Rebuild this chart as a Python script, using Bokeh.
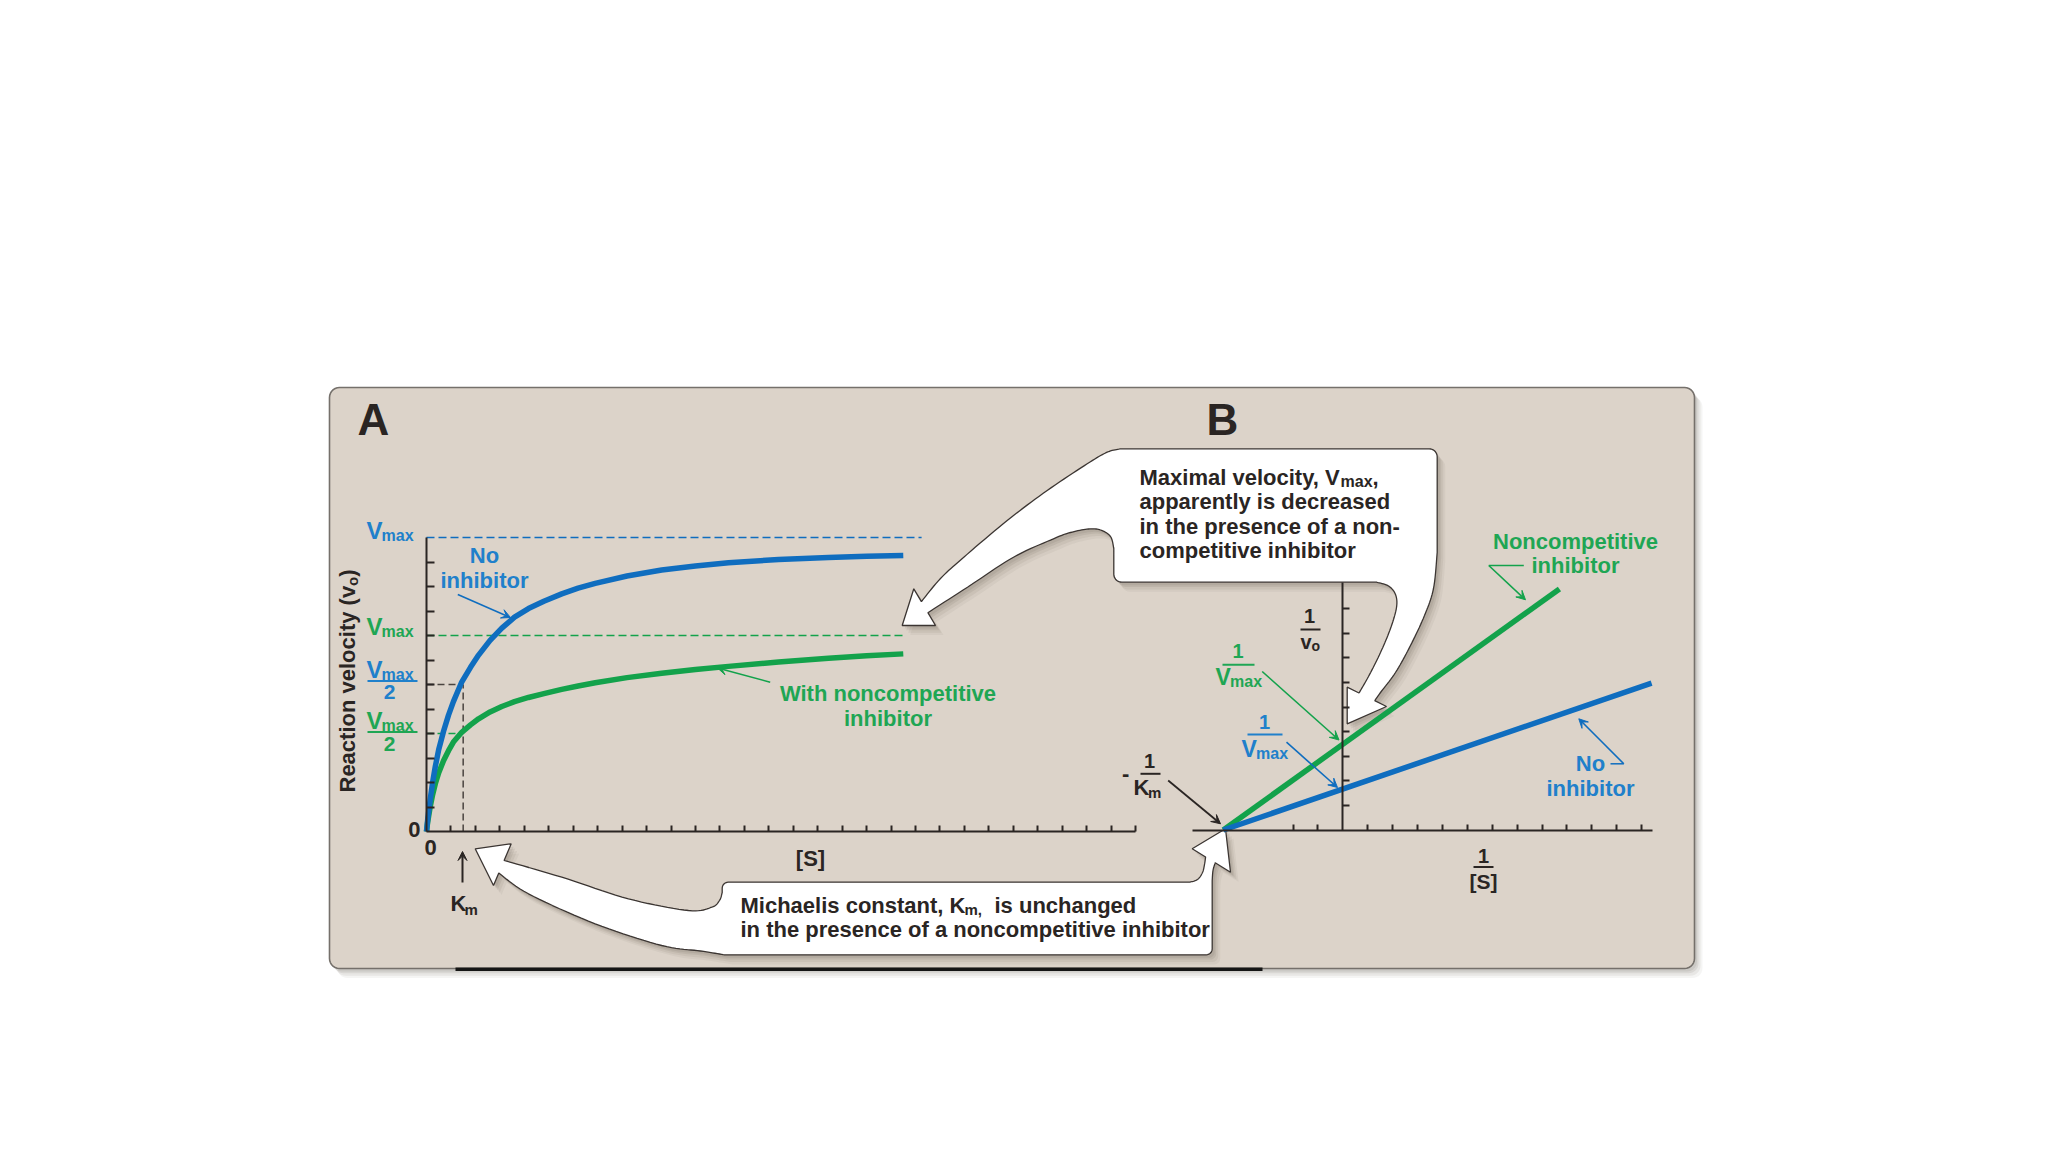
import numpy as np
from bokeh.plotting import figure
from bokeh.models import Range1d, LinearAxis, FixedTicker, Arrow, VeeHead
from bokeh.core.properties import value
from bokeh.embed import file_html
from bokeh.resources import INLINE

# ---------------- data ----------------
# Panel A: Michaelis-Menten plot ([S] and v0 in tick units)
S_VALUES = [0, 0.05, 0.15, 0.25, 0.36, 0.5, 0.7, 0.9, 1.1, 1.44, 1.8, 2.13, 2.6, 3.08,
            3.6, 4.17, 4.8, 5.53, 6.2, 6.9, 8.2, 9.62, 11, 12.35, 14.4, 16.44, 18, 19.5]
V_NO_INHIBITOR = [0, 0.5, 1.3, 2.0, 2.65, 3.35, 4.1, 4.75, 5.3, 6.1, 6.7, 7.2, 7.8, 8.3,
                  8.75, 9.1, 9.4, 9.7, 9.93, 10.13, 10.43, 10.67, 10.84, 10.97, 11.1, 11.18,
                  11.23, 11.27]
V_NONCOMPETITIVE = [0, 0.4, 1.0, 1.5, 1.95, 2.4, 2.9, 3.3, 3.65, 4.05, 4.35, 4.6, 4.88, 5.1,
                    5.3, 5.47, 5.63, 5.8, 5.94, 6.07, 6.28, 6.46, 6.61, 6.74, 6.92, 7.07,
                    7.17, 7.25]
VMAX_NO_INHIBITOR = 12
VMAX_NONCOMPETITIVE = 8
KM = 1.5
VMAX_LINE_END = [20.25, 19.5]
S_AXIS_END = 29
V_AXIS_END = 12
A_X_TICKS = [1, 2, 3, 4, 5, 6, 7, 8, 9, 10, 11, 12, 13, 14, 15, 16, 17, 18, 19, 20,
             21, 22, 23, 24, 25, 26, 27, 28, 29]
A_Y_TICKS = [1, 2, 3, 4, 5, 6, 7, 8, 9, 10, 11]

# Panel B: Lineweaver-Burk plot (1/[S] and 1/v0 in tick units)
INV_S_NO_INHIBITOR = [-4.8, 12.4]
INV_V_NO_INHIBITOR = [0, 5.97]
INV_S_NONCOMPETITIVE = [-4.8, 8.7]
INV_V_NONCOMPETITIVE = [0, 9.8]
B_X_TICKS = [-2, -1, 1, 2, 3, 4, 5, 6, 7, 8, 9, 10, 11, 12]
B_Y_TICKS = [1, 2, 3, 4, 5, 6, 7, 8, 9]
B_X_AXIS_BOUNDS = (-6.05, 12.43)
B_Y_AXIS_END = 10.07

# ---------------- layout constants (page pixels) ----------------
W, H = 2040, 1144
X_LO, X_HI, Y_TOP, Y_BOT = 0, W, 0, H
A_X0, A_XU, A_Y0, A_YU = 426.0, 24.45, 831.0, 24.5
B_X0, B_XU, B_Y0, B_YU = 1342.3, 24.9, 829.5, 24.6
BASE_K = 0.32  # renderer baseline correction (fraction of font size)

FONT = "Liberation Sans"
DARK = "#2a2523"
BLUE = "#0f6dbf"
GREEN = "#13a24b"
BLUE_T = "#2080cb"
GREEN_T = "#1fa654"
PANEL = "#dcd3c9"

p = figure(width=W, height=H, output_backend="svg", toolbar_location=None, tools="",
           x_range=Range1d(X_LO, X_HI), y_range=Range1d(Y_BOT, Y_TOP),
           x_axis_location=None, y_axis_location=None, min_border=0,
           outline_line_color=None, background_fill_color="white", border_fill_color="white")
for g in p.grid:
    g.visible = False

p.extra_x_ranges = {
    "ax": Range1d((X_LO - A_X0) / A_XU, (X_HI - A_X0) / A_XU),
    "bx": Range1d((X_LO - B_X0) / B_XU, (X_HI - B_X0) / B_XU),
}
p.extra_y_ranges = {
    "ay": Range1d((A_Y0 - Y_BOT) / A_YU, (A_Y0 - Y_TOP) / A_YU),
    "by": Range1d((B_Y0 - Y_BOT) / B_YU, (B_Y0 - Y_TOP) / B_YU),
}


# ---------------- helpers ----------------
def catmull(pts, n=10):
    ext = [pts[0]] + list(pts) + [pts[-1]]
    out = []
    for i in range(1, len(ext) - 2):
        p0, p1, p2, p3 = (np.array(q, dtype=float) for q in ext[i - 1:i + 3])
        for t in np.linspace(0, 1, n, endpoint=False):
            t2, t3 = t * t, t * t * t
            q = 0.5 * (2 * p1 + (-p0 + p2) * t + (2 * p0 - 5 * p1 + 4 * p2 - p3) * t2
                       + (-p0 + 3 * p1 - 3 * p2 + p3) * t3)
            out.append((q[0], q[1]))
    out.append(tuple(pts[-1]))
    return out


def arc(cx, cy, r, a0, a1, n=8):
    a = np.radians(np.linspace(a0, a1, n))
    return [(cx + r * np.cos(t), cy + r * np.sin(t)) for t in a]


def rounded_rect(x0, y0, x1, y1, r):
    pts = []
    pts += arc(x0 + r, y0 + r, r, 180, 270)
    pts += arc(x1 - r, y0 + r, r, 270, 360)
    pts += arc(x1 - r, y1 - r, r, 0, 90)
    pts += arc(x0 + r, y1 - r, r, 90, 180)
    return pts


def shape(pts, fill, line, lw=1.3, shadow=True):
    xs = [q[0] for q in pts]
    ys = [q[1] for q in pts]
    if shadow:
        for dx, alpha in ((8, 0.06), (6, 0.08), (4, 0.10), (2.5, 0.10)):
            p.patch([x + dx for x in xs], [y + dx * 1.2 for y in ys],
                    fill_color="#5a4d42", fill_alpha=alpha, line_color=None)
    p.patch(xs, ys, fill_color=fill, line_color=line, line_width=lw)


def txt(x, y, s, size=22, color=DARK, align="left", angle=0.0):
    if angle:
        x = x - BASE_K * size
    else:
        y = y - BASE_K * size
    p.text(x=[x], y=[y], text=[s], text_font=value(FONT), text_font_size=f"{size}px",
           text_font_style="bold", text_color=color, text_align=align,
           text_baseline="alphabetic", angle=angle)


def bar(x0, x1, y, color=DARK, lw=2):
    p.segment(x0=[x0], y0=[y], x1=[x1], y1=[y], line_color=color, line_width=lw)


def pointer(x0, y0, x1, y1, color, lw=1.6, size=10):
    p.add_layout(Arrow(end=VeeHead(size=size, line_color=color, fill_color=color, line_width=1),
                       x_start=x0, y_start=y0, x_end=x1, y_end=y1,
                       line_color=color, line_width=lw))


# ---------------- panel ----------------
shape(rounded_rect(329, 387, 1694, 968, 10), PANEL, "#75706b", lw=1.6, shadow=True)
bar(455, 1262, 968.8, color="#151515", lw=3.5)

txt(357, 433, "A", size=44)
txt(1206, 433, "B", size=44)

# ---------------- callouts ----------------
c1 = [(1120, 448.3), (1428.7, 448.3)]
c1 += arc(1428.7, 456.3, 8, -90, 0)
c1 += catmull([(1436.7, 552), (1433, 588), (1424, 615), (1410, 645), (1395, 672),
               (1380, 692), (1374.2, 700.2)])
c1 += [(1386, 706), (1346.7, 723.3), (1346.7, 686.7)]
c1 += catmull([(1358.5, 692.5), (1368, 676), (1380, 652), (1390, 628), (1396, 607),
               (1395, 594), (1388, 585.5), (1376, 581.7)])
c1 += arc(1121.3, 573.7, 8, 90, 180)
c1 += catmull([(1113.3, 548), (1110, 536), (1100, 529.5), (1088, 528.5), (1070, 532),
               (1053, 538.3), (1013, 556.7), (967, 586.7), (927.4, 612.2)])
c1 += [(935, 625), (901.7, 625), (913.3, 588.3)]
c1 += catmull([(920.9, 601.1), (940, 578), (963.3, 556.7), (1006.7, 520), (1046.7, 490),
               (1086.7, 463.3), (1106.7, 451.7), (1120, 448.3)])

c2 = arc(727.7, 887.7, 6, 180, 270)
c2 += catmull([(1189, 881.7), (1197, 879), (1202, 872), (1204, 864), (1205.1, 856.5)])
c2 += [(1191.7, 848.3), (1225, 828.3), (1230, 871.7)]
c2 += catmull([(1214.7, 862.3), (1212.5, 870), (1211.7, 880)])
c2 += arc(1205.7, 948.3, 6, 0, 90)
c2 += catmull([(724, 954.3), (700, 950.5), (661.3, 945), (594.7, 923.3), (528, 893.3),
               (498.3, 872.5)])
c2 += [(493, 885), (474.7, 848.3), (510.7, 843.3)]
c2 += catmull([(503.6, 860), (561.3, 876.7), (628, 898.3), (688, 910), (711.3, 906.7),
               (719, 900), (721.7, 892)])

# ---------------- panel A data ----------------
A = dict(x_range_name="ax", y_range_name="ay")
p.line([0, VMAX_LINE_END[0]], [VMAX_NO_INHIBITOR] * 2, line_color=BLUE, line_width=1.5,
       line_dash="8 4", **A)
p.line([0, VMAX_LINE_END[1]], [VMAX_NONCOMPETITIVE] * 2, line_color=GREEN, line_width=1.5,
       line_dash="8 4", **A)
p.line([0, KM], [VMAX_NO_INHIBITOR / 2] * 2, line_color="#4a4440", line_width=1.5,
       line_dash="7 4", **A)
p.line([0, KM], [VMAX_NONCOMPETITIVE / 2] * 2, line_color=GREEN, line_width=1.5,
       line_dash="7 4", **A)
p.line([KM, KM], [0, VMAX_NO_INHIBITOR / 2], line_color="#4a4440", line_width=1.5,
       line_dash="7 4", **A)
p.line(S_VALUES, V_NONCOMPETITIVE, line_color=GREEN, line_width=5.5, line_join="round", **A)
p.line(S_VALUES, V_NO_INHIBITOR, line_color=BLUE, line_width=5.5, line_join="round", **A)

axis_style = dict(axis_line_color=DARK, axis_line_width=2, major_tick_line_color=DARK,
                  major_tick_line_width=2, major_tick_out=0, minor_tick_in=0,
                  minor_tick_out=0, major_label_text_color=None)
ax_a = LinearAxis(x_range_name="ax", y_range_name="ay", fixed_location=0,
                  ticker=FixedTicker(ticks=A_X_TICKS), bounds=(0, S_AXIS_END),
                  major_tick_in=6, **axis_style)
p.add_layout(ax_a, "below")
ay_a = LinearAxis(x_range_name="ax", y_range_name="ay", fixed_location=0,
                  ticker=FixedTicker(ticks=A_Y_TICKS), bounds=(0, V_AXIS_END),
                  major_tick_in=8, **axis_style)
p.add_layout(ay_a, "left")

# ---------------- panel B data ----------------
B = dict(x_range_name="bx", y_range_name="by")
ax_b = LinearAxis(x_range_name="bx", y_range_name="by", fixed_location=0,
                  ticker=FixedTicker(ticks=B_X_TICKS), bounds=B_X_AXIS_BOUNDS,
                  major_tick_in=6, **axis_style)
p.add_layout(ax_b, "below")
ay_b = LinearAxis(x_range_name="bx", y_range_name="by", fixed_location=0,
                  ticker=FixedTicker(ticks=B_Y_TICKS), bounds=(0, B_Y_AXIS_END),
                  major_tick_in=7, **axis_style)
p.add_layout(ay_b, "left")

shape(c1, "white", "#3b3532")
shape(c2, "white", "#3b3532")

p.line(INV_S_NONCOMPETITIVE, INV_V_NONCOMPETITIVE, line_color=GREEN, line_width=5.5, **B)
p.line(INV_S_NO_INHIBITOR, INV_V_NO_INHIBITOR, line_color=BLUE, line_width=5.5, **B)

# ---------------- panel A labels ----------------
rot = np.pi / 2
txt(354, 792, "Reaction velocity (v", size=22, angle=rot)
txt(357, 585.4, "o", size=15, angle=rot)
txt(354, 576.2, ")", size=22, angle=rot)

txt(366, 538, "V", size=24, color=BLUE_T)
txt(381, 540, "max", size=16, color=BLUE_T)
txt(366, 634, "V", size=24, color=GREEN_T)
txt(381, 636, "max", size=16, color=GREEN_T)
txt(366, 677, "V", size=24, color=BLUE_T)
txt(381, 679, "max", size=16, color=BLUE_T)
bar(367, 417, 680.5, color=BLUE_T)
txt(389, 698, "2", size=21, color=BLUE_T, align="center")
txt(366, 728, "V", size=24, color=GREEN_T)
txt(381, 730, "max", size=16, color=GREEN_T)
bar(367, 417, 731.5, color=GREEN_T)
txt(389, 750.5, "2", size=21, color=GREEN_T, align="center")

txt(420, 836, "0", align="right")
txt(430, 854, "0", align="center")
txt(810, 865, "[S]", align="center")
txt(450, 910, "K")
txt(464, 914, "m", size=15)
pointer(462, 882, 462, 851, DARK, lw=2, size=9)

txt(484, 562, "No", color=BLUE_T, align="center")
txt(484, 587, "inhibitor", color=BLUE_T, align="center")
pointer(457.3, 594, 510, 617, BLUE, size=9)
txt(887.5, 700, "With noncompetitive", color=GREEN_T, align="center")
txt(887.5, 725, "inhibitor", color=GREEN_T, align="center")
pointer(769.7, 681.7, 717, 667.5, GREEN, size=9)

# ---------------- panel B labels ----------------
txt(1309, 622, "1", size=20, align="center")
bar(1300, 1320, 629)
txt(1300, 648, "v", size=20)
txt(1311, 650, "o", size=14)

txt(1483, 862, "1", size=20, align="center")
bar(1473, 1493, 866.5)
txt(1483, 888, "[S]", size=21, align="center")

txt(1237.5, 657, "1", size=20, color=GREEN_T, align="center")
bar(1222, 1254, 664.3, color=GREEN_T)
txt(1215, 684, "V", size=23, color=GREEN_T)
txt(1229.5, 686, "max", size=16, color=GREEN_T)
pointer(1261.7, 671, 1338.5, 739.5, GREEN, size=9)

txt(1264, 727.7, "1", size=20, color=BLUE_T, align="center")
bar(1247, 1282, 734, color=BLUE_T)
txt(1241, 756, "V", size=23, color=BLUE_T)
txt(1255.5, 758, "max", size=16, color=BLUE_T)
pointer(1286, 741.7, 1337, 787, BLUE, size=9)

txt(1121.5, 780, "-", size=22)
txt(1149, 767, "1", size=20, align="center")
bar(1140, 1160, 773.3)
txt(1133, 794, "K", size=22)
txt(1147.5, 797, "m", size=15)
pointer(1167.7, 780, 1220, 823.3, DARK, lw=1.8, size=9)

txt(1575, 548, "Noncompetitive", color=GREEN_T, align="center")
txt(1575, 572, "inhibitor", color=GREEN_T, align="center")
bar(1488.3, 1523.3, 565, color=GREEN, lw=1.5)
pointer(1488.3, 565, 1525, 599.3, GREEN, size=9)

txt(1590, 770, "No", color=BLUE_T, align="center")
txt(1590, 795, "inhibitor", color=BLUE_T, align="center")
bar(1610, 1623.3, 763.3, color=BLUE, lw=1.5)
pointer(1623.3, 763.3, 1578.3, 718.3, BLUE, size=9)

# ---------------- callout texts ----------------
txt(1139, 484, "Maximal velocity, V")
txt(1340, 486, "max", size=16)
txt(1372, 484, ",")
txt(1139, 508.5, "apparently is decreased")
txt(1139, 533, "in the presence of a non-")
txt(1139, 557.5, "competitive inhibitor")

txt(740, 912, "Michaelis constant, K")
txt(964, 914, "m,", size=15)
txt(994, 912, "is unchanged")
txt(740, 936.5, "in the presence of a noncompetitive inhibitor")

open("out.html", "w").write(file_html(p, INLINE, title="Noncompetitive inhibition"))
